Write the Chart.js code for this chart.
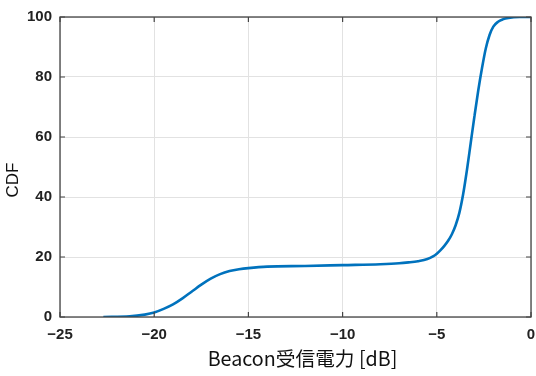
<!DOCTYPE html>
<html>
<head>
<meta charset="utf-8">
<script src="https://cdn.jsdelivr.net/npm/chart.js@4"></script>
<style>
  html, body { margin: 0; padding: 0; background: #fff; }
  #wrap { width: 536px; height: 376px; }
</style>
</head>
<body>
<div id="wrap"><canvas id="cdfChart"></canvas></div>
<script>
// Beacon受信電力 [dB] vs CDF (%)
const powerDb = [-22.7, -21.3, -20.5, -20, -19.5, -19, -18.5, -18, -17.5, -17, -16.5, -16, -15.5, -15, -14, -12, -10, -8, -7, -6.5, -6, -5.5, -5.2, -5, -4.8, -4.6, -4.4, -4.2, -4, -3.8, -3.6, -3.4, -3.2, -3, -2.8, -2.6, -2.4, -2.2, -2, -1.75, -1.5, -1.2, -0.6, 0];
const cdfPct = [0, 0.2, 0.8, 1.5, 2.7, 4.2, 6.2, 8.5, 10.8, 12.8, 14.3, 15.3, 15.9, 16.3, 16.8, 17.0, 17.3, 17.6, 17.9, 18.2, 18.6, 19.3, 20.2, 21.1, 22.3, 23.7, 25.4, 27.6, 30.6, 34.8, 41, 49, 58, 67, 75.5, 83, 89.5, 94, 96.8, 98.4, 99.2, 99.7, 100, 100];

const xTicks = [-25, -20, -15, -10, -5, 0];
const yTicks = [0, 20, 40, 60, 80, 100];
const xTitle = 'Beacon受信電力 [dB]';
const yTitle = 'CDF';

const tickFont = { family: "'Liberation Sans Narrow', 'Liberation Sans', Arial, sans-serif", size: 15, weight: 'bold' };

// frame box with inward tick marks + axis titles
const framePlugin = {
  id: 'frame',
  afterDraw(chart) {
    const ctx = chart.ctx;
    const a = chart.chartArea;
    const xs = chart.scales.x, ys = chart.scales.y;
    const len = 5;
    ctx.save();
    ctx.strokeStyle = '#444';
    ctx.lineWidth = 1.3;
    ctx.strokeRect(a.left, a.top, a.right - a.left, a.bottom - a.top);
    ctx.lineWidth = 1.2;
    ctx.beginPath();
    xTicks.forEach(v => {
      const px = xs.getPixelForValue(v);
      ctx.moveTo(px, a.bottom); ctx.lineTo(px, a.bottom - len);
      ctx.moveTo(px, a.top); ctx.lineTo(px, a.top + len);
    });
    yTicks.forEach(v => {
      const py = ys.getPixelForValue(v);
      ctx.moveTo(a.left, py); ctx.lineTo(a.left + len, py);
      ctx.moveTo(a.right, py); ctx.lineTo(a.right - len, py);
    });
    ctx.stroke();

    // titles
    ctx.fillStyle = '#111';
    ctx.textAlign = 'center';
    ctx.textBaseline = 'middle';
    ctx.font = "19.7px 'Noto Sans CJK JP', 'Noto Sans', sans-serif";
    ctx.fillText(xTitle, (a.left + a.right) / 2 + 7, 359);
    ctx.translate(13, 180);
    ctx.rotate(-Math.PI / 2);
    ctx.font = "17px 'Liberation Sans', Arial, sans-serif";
    ctx.fillText(yTitle, 0, 0);
    ctx.restore();
  }
};

const minus = v => String(v).replace('-', '\u2212');

new Chart(document.getElementById('cdfChart'), {
  type: 'line',
  data: {
    datasets: [{
      data: powerDb.map((x, i) => ({ x: x, y: cdfPct[i] })),
      borderColor: '#0072BD',
      borderWidth: 2.6,
      pointRadius: 0,
      fill: false,
      cubicInterpolationMode: 'monotone'
    }]
  },
  options: {
    responsive: true,
    maintainAspectRatio: false,
    animation: false,
    layout: { padding: { top: 17, right: 5, left: 0, bottom: 0 } },
    plugins: { legend: { display: false }, tooltip: { enabled: false } },
    scales: {
      x: {
        type: 'linear',
        min: -25, max: 0,
        afterFit(scale) { scale.height = 59; scale.paddingLeft = 0; scale.paddingRight = 0; },
        afterBuildTicks(scale) { scale.ticks = xTicks.map(v => ({ value: v })); },
        grid: { color: '#e2e2e2', lineWidth: 1, drawTicks: false },
        border: { display: false },
        ticks: { padding: 9, color: '#222', font: tickFont, callback: minus, maxRotation: 0 }
      },
      y: {
        min: 0, max: 100,
        afterFit(scale) { scale.width = 60; scale.paddingTop = 0; scale.paddingBottom = 0; },
        afterBuildTicks(scale) { scale.ticks = yTicks.map(v => ({ value: v })); },
        grid: { color: '#e2e2e2', lineWidth: 1, drawTicks: false },
        border: { display: false },
        ticks: { padding: 8, color: '#222', font: tickFont }
      }
    }
  },
  plugins: [framePlugin]
});
</script>
</body>
</html>
